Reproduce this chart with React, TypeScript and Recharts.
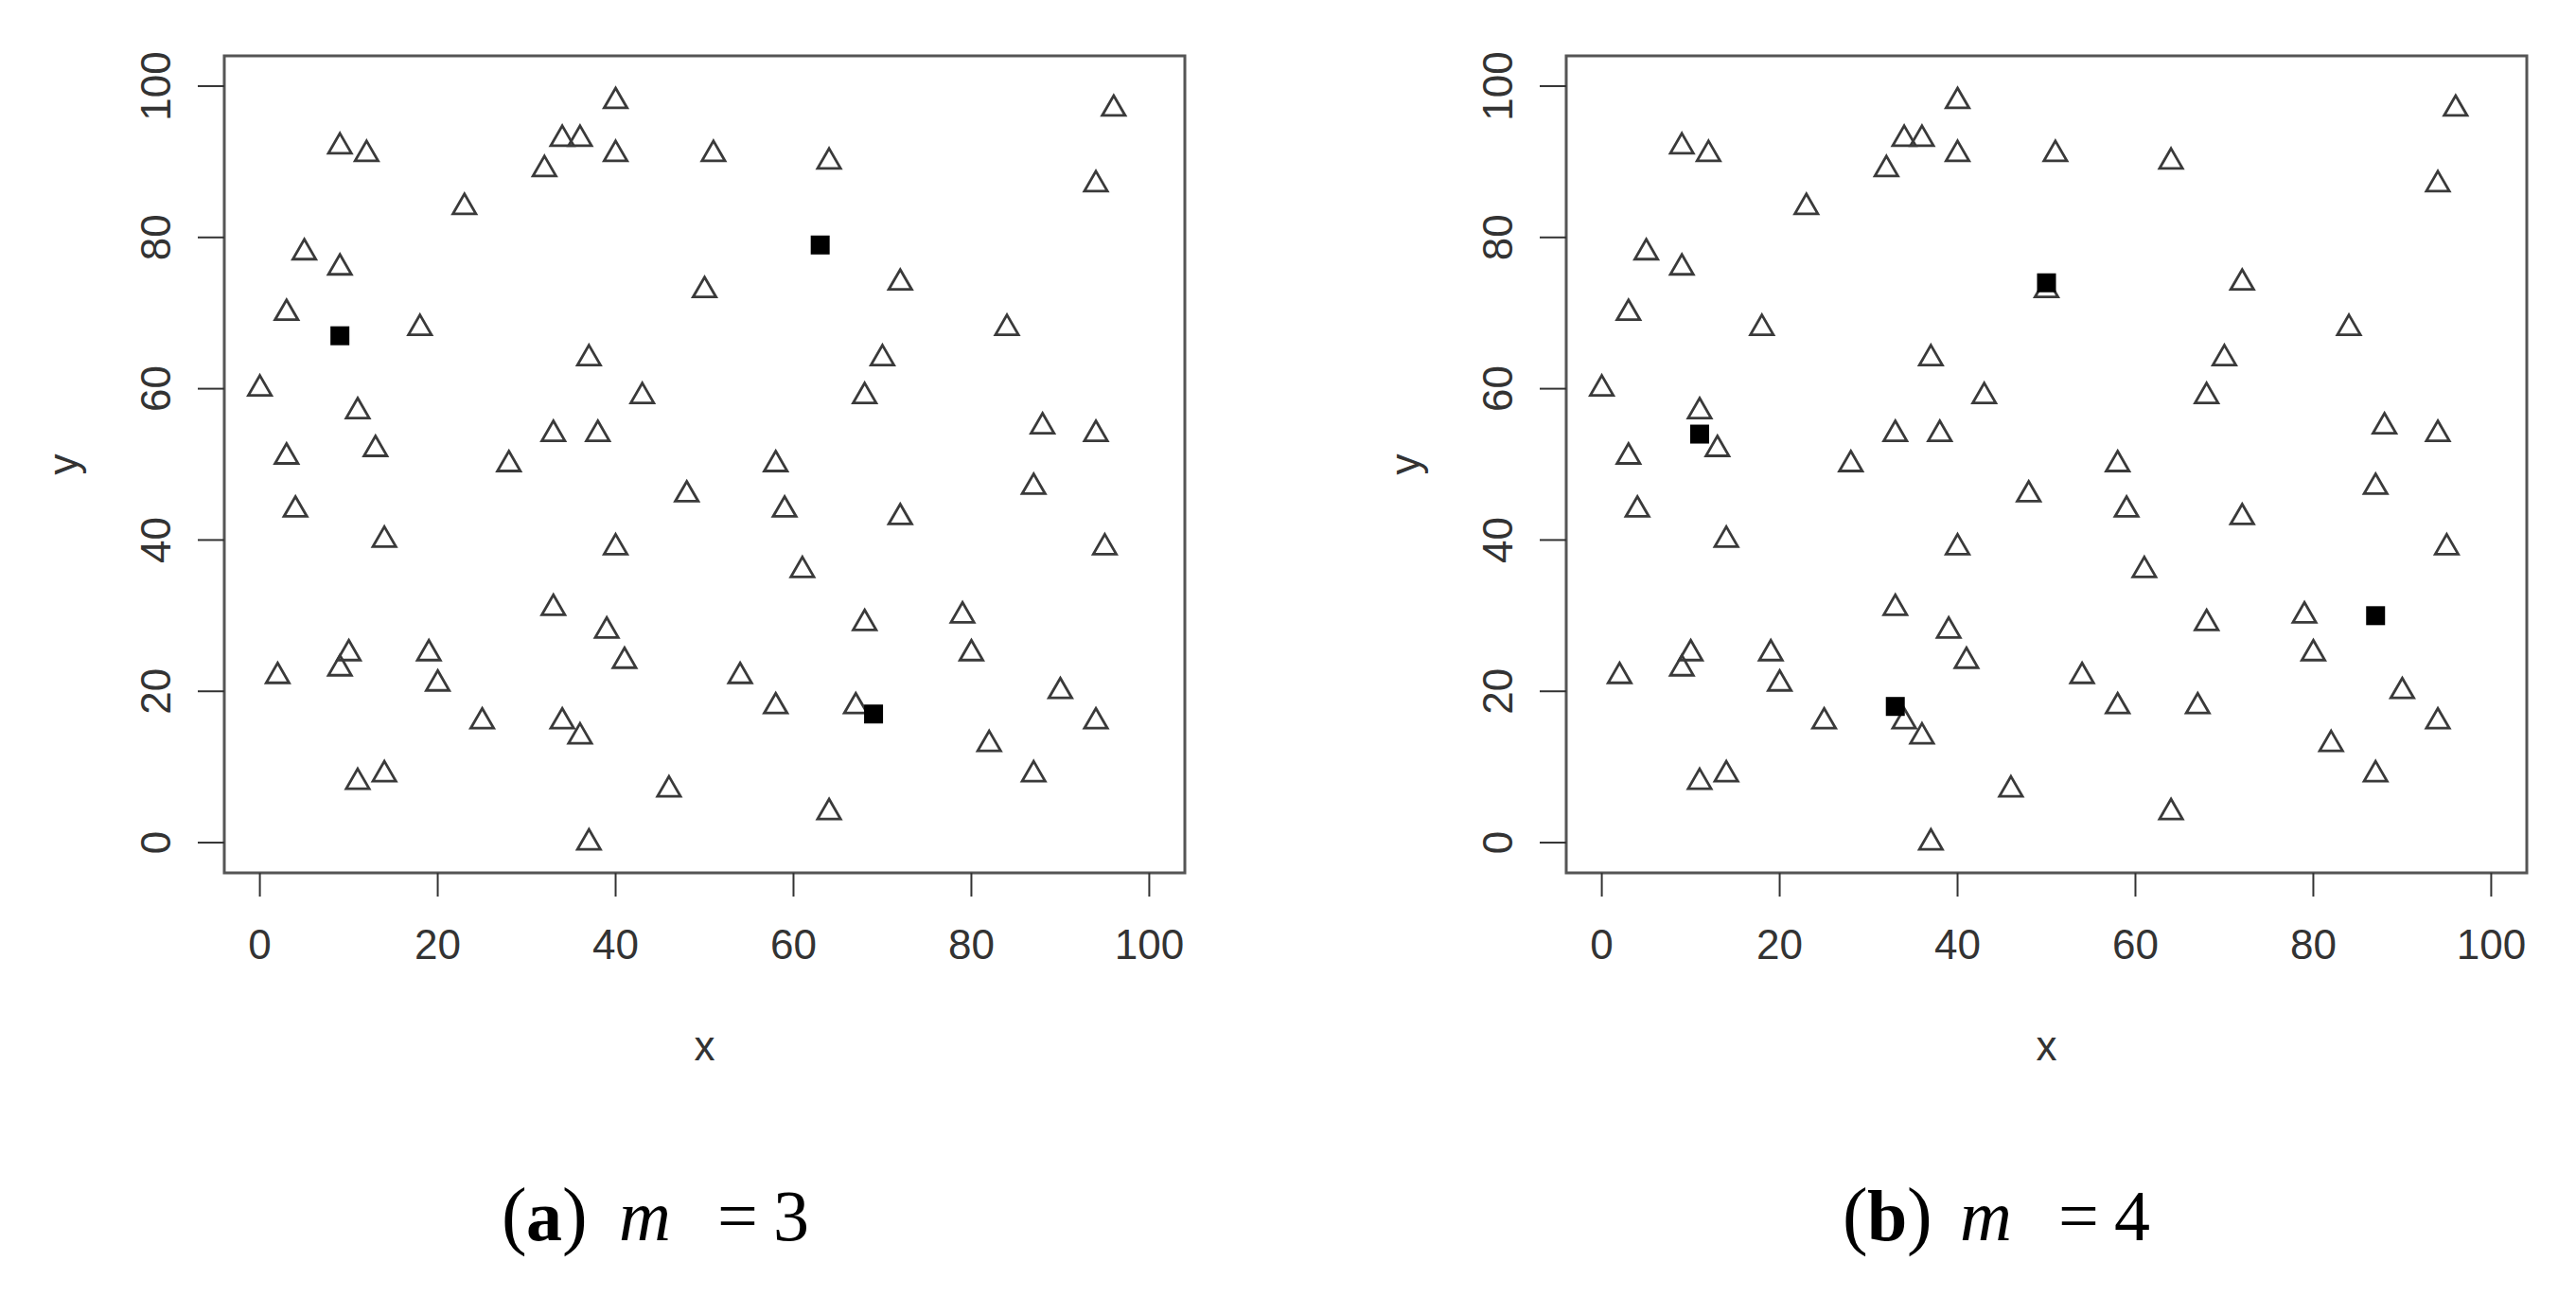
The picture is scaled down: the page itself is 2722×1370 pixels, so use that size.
import React from 'react'
import { ScatterChart, Scatter, XAxis, YAxis, ReferenceArea } from 'recharts'

// open triangles (same set in both panels)
const triX = [0, 2, 3, 3, 4, 5, 9, 9, 9, 10, 11, 11, 12, 13, 14, 14, 18, 19, 20, 23, 25, 28, 32, 33, 33, 34, 34, 36, 36, 37, 37, 38, 39, 40, 40, 40, 41, 43, 46, 48, 50, 51, 54, 58, 58, 59, 61, 64, 64, 67, 68, 68, 70, 72, 72, 79, 80, 82, 84, 87, 87, 88, 90, 94, 94, 94, 95, 96]
const triY = [60, 22, 51, 70, 44, 78, 92, 76, 23, 25, 57, 8, 91, 52, 40, 9, 68, 25, 21, 84, 16, 50, 89, 54, 31, 93, 16, 93, 14, 64, 0, 54, 28, 98, 91, 39, 24, 59, 7, 46, 73, 91, 22, 50, 18, 44, 36, 90, 4, 18, 59, 29, 64, 74, 43, 30, 25, 13, 68, 47, 9, 55, 20, 87, 54, 16, 39, 97]

// filled squares
const centresAX = [9, 63, 69]
const centresAY = [67, 79, 17]
const centresBX = [11, 50, 33, 87]
const centresBY = [54, 74, 18, 30]

const axisTicks = [0, 20, 40, 60, 80, 100]

const SANS = '"Liberation Sans", Arial, sans-serif'
const SERIF = '"Liberation Serif", "Times New Roman", serif'
const INK = '#333'
const FS = 44

const toPoints = (xs: number[], ys: number[]) => xs.map((x, i) => ({ x, y: ys[i] }))
const triangles = toPoints(triX, triY)

const Triangle = (props: any) => {
  const { cx, cy } = props
  const r = 14
  const hw = r * 0.866
  return (
    <path
      d={`M${cx},${cy - r}L${cx + hw},${cy + r / 2}L${cx - hw},${cy + r / 2}Z`}
      fill="none"
      stroke="#3a3a3a"
      strokeWidth={2.8}
    />
  )
}

const Square = (props: any) => {
  const { cx, cy } = props
  return <rect x={cx - 10} y={cy - 10} width={20} height={20} fill="#000" />
}

const YTick = (props: any) => {
  const { x, y, payload } = props
  return (
    <text x={x} y={y} transform={`rotate(-90 ${x} ${y})`} textAnchor="middle" fill={INK} fontSize={FS} fontFamily={SANS}>
      {payload.value}
    </text>
  )
}

function Panel({ left, centres }: { left: number; centres: { x: number; y: number }[] }) {
  return (
    <div style={{ position: 'absolute', left, top: 0 }}>
      <ScatterChart width={1300} height={1370} margin={{ top: 59, right: 48, bottom: 348, left: 157 }}>
        <XAxis
          type="number"
          dataKey="x"
          domain={[-4, 104]}
          ticks={axisTicks}
          interval={0}
          height={100}
          axisLine={false}
          tickSize={25}
          tickMargin={35}
          tickLine={{ stroke: INK, strokeWidth: 2 }}
          tick={{ fill: INK, fontSize: FS, fontFamily: SANS }}
          label={{
            value: 'x',
            content: (p: any) => (
              <text x={p.viewBox.x + p.viewBox.width / 2} y={p.viewBox.y + 182} textAnchor="middle" dominantBaseline="central" fill={INK} fontSize={FS} fontFamily={SANS}>
                x
              </text>
            ),
          }}
        />
        <YAxis
          type="number"
          dataKey="y"
          domain={[-4, 104]}
          ticks={axisTicks}
          interval={0}
          width={80}
          axisLine={false}
          tickSize={28}
          tickMargin={29}
          tickLine={{ stroke: INK, strokeWidth: 2 }}
          tick={<YTick />}
          label={{
            value: 'y',
            content: (p: any) => {
              const cx = p.viewBox.x - 91
              const cy = p.viewBox.y + p.viewBox.height / 2
              return (
                <text x={cx} y={cy} transform={`rotate(-90 ${cx} ${cy})`} textAnchor="middle" dominantBaseline="central" fill={INK} fontSize={FS} fontFamily={SANS}>
                  y
                </text>
              )
            },
          }}
        />
        <ReferenceArea x1={-4} x2={104} y1={-4} y2={104} fill="none" stroke="#555" strokeWidth={3} />
        <Scatter data={triangles} shape={Triangle} isAnimationActive={false} />
        <Scatter data={centres} shape={Square} isAnimationActive={false} />
      </ScatterChart>
    </div>
  )
}

function Caption({ x0, letter, value }: { x0: number; letter: string; value: string }) {
  const base = 1310
  const shift = letter === 'b' ? 4 : 0
  return (
    <text y={base} fill="#000" fontFamily={SERIF} fontSize={76}>
      <tspan x={x0} fontSize={80}>(</tspan>
      <tspan x={x0 + 26} fontWeight="bold">{letter}</tspan>
      <tspan x={x0 + 64 + shift} fontSize={80}>)</tspan>
      <tspan x={x0 + 124} fontStyle="italic">m</tspan>
      <tspan x={x0 + 228}>=</tspan>
      <tspan x={x0 + 287}>{value}</tspan>
    </text>
  )
}

export default function App() {
  return (
    <div style={{ position: 'absolute', left: 0, top: 0, width: 2722, height: 1370, background: '#fff' }}>
      <Panel left={0} centres={toPoints(centresAX, centresAY)} />
      <Panel left={1418} centres={toPoints(centresBX, centresBY)} />
      <svg width={2722} height={1370} style={{ position: 'absolute', left: 0, top: 0, pointerEvents: 'none' }}>
        <Caption x0={530} letter="a" value="3" />
        <Caption x0={1947} letter="b" value="4" />
      </svg>
    </div>
  )
}
